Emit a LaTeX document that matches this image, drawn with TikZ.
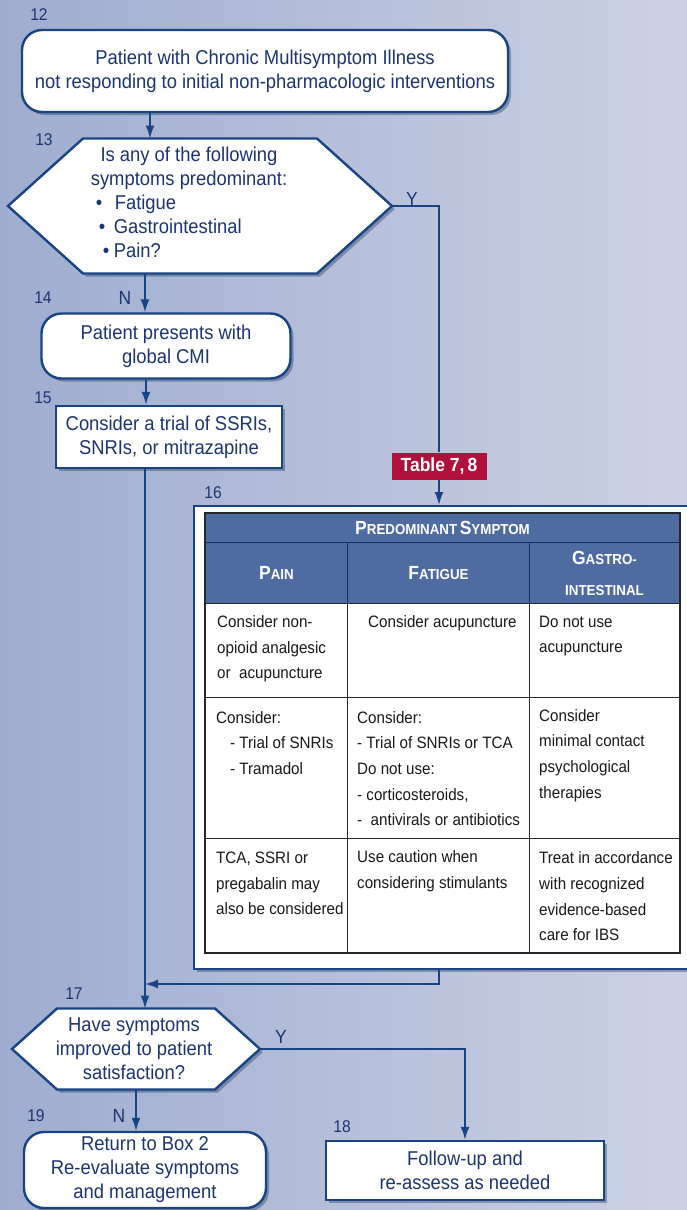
\documentclass[tikz,border=0pt]{standalone}
\usepackage{fontspec}
\setmainfont{Liberation Sans}[FakeStretch=0.92]
\usetikzlibrary{positioning, arrows.meta, shadows}

\definecolor{navy}{RGB}{24,68,132}
\definecolor{ink}{RGB}{28,52,112}
\definecolor{bgleft}{RGB}{158,173,207}
\definecolor{bgright}{RGB}{204,209,228}
\definecolor{hdrblue}{RGB}{78,107,162}
\definecolor{badgered}{RGB}{176,16,58}

% hexagon drawn round an (empty) container node
\newcommand{\hexbox}[2]{%
  \filldraw[hexline] ([xshift=#2]#1.north west) -- ([xshift=-#2]#1.north east) -- (#1.east)
    -- ([xshift=-#2]#1.south east) -- ([xshift=#2]#1.south west) -- (#1.west) -- cycle;}
% fake small caps for the table heads
\newcommand{\hdrcap}[2]{{\fontsize{19}{19}\selectfont #1}{\fontsize{14.5}{14.5}\selectfont #2}}

\begin{document}
\begin{tikzpicture}[x=1pt, y=-1pt,
    boxshadow/.style={drop shadow={shadow xshift=3pt, shadow yshift=-3pt, opacity=0.35, fill=navy!60!black}},
    box/.style={draw=navy, line width=2.4pt, fill=white, text=ink, align=center,
      font=\fontsize{20}{24}\selectfont, boxshadow},
    roundbox/.style={box, rounded corners=20pt},
    hexline/.style={draw=navy, line width=2.4pt, fill=white, line join=miter, boxshadow},
    hexspace/.style={inner sep=0pt, outer sep=0pt},
    hextext/.style={text=ink, align=center, font=\fontsize{20}{24}\selectfont},
    flow/.style={draw=navy, line width=1.8pt},
    numlab/.style={text=ink, font=\fontsize{17}{17}\selectfont},
    yn/.style={text=ink, font=\fontsize{19}{19}\selectfont},
    badge/.style={fill=badgered, text=white, font=\bfseries\fontsize{19}{19}\selectfont,
      minimum width=95pt, minimum height=27pt, inner sep=1pt},
    hdr/.style={draw=navy!70!black, line width=1pt, fill=hdrblue, text=white, align=center,
      font=\bfseries, anchor=north west},
    cell/.style={draw=black!85, line width=1pt, anchor=north west, fill=white},
    celltext/.style={anchor=west, align=left, text=black!90, inner sep=0pt,
      font=\fontsize{16.5}{25.7}\selectfont},
    >={Latex[length=13pt, width=9pt]}
  ]
    \useasboundingbox (0,0) rectangle (687,1210);
    \shade[left color=bgleft, right color=bgright] (0,0) rectangle (687,1210);

    % --- 12: start ---
    \node[roundbox, minimum width=486pt, minimum height=82pt] (b12) at (265,71)
      {Patient with Chronic Multisymptom Illness\\not responding to initial non-pharmacologic interventions};
    \node[numlab] (n12) at (39,15) {12};

    % --- 13: predominant symptom? ---
    \node[hexspace, minimum width=384pt, minimum height=135pt] (q13) at (200,206) {};
    \hexbox{q13}{75pt}
    \node[hextext] (q13text) at (189,205) {%
      \begin{tabular}{@{}l@{}}
        \multicolumn{1}{@{}c@{}}{Is any of the following}\\
        \multicolumn{1}{@{}c@{}}{symptoms predominant:}\\
        \hspace*{5pt}\makebox[19pt][l]{\textbullet}Fatigue\\
        \hspace*{8pt}\makebox[15pt][l]{\textbullet}Gastrointestinal\\
        \hspace*{12pt}\makebox[11pt][l]{\textbullet}Pain?
      \end{tabular}};
    \node[numlab] (n13) at (44,140) {13};
    \node[yn] (y13) at (412,199) {Y};
    \node[yn] (no13) at (125,298) {N};

    % --- 14 / 15: global CMI ---
    \node[roundbox, minimum width=249pt, minimum height=65pt] (b14) at (166,346)
      {Patient presents with\\global CMI};
    \node[numlab] (n14) at (43,298) {14};
    \node[box, minimum width=226pt, minimum height=62pt] (b15) at (169,437)
      {Consider a trial of SSRIs,\\SNRIs, or mitrazapine};
    \node[numlab] (n15) at (43,398) {15};

    % --- 16: table of treatments ---
    \node[badge] (t78) at (439,466) {Table 7,\,8};
    \node[box, minimum width=502pt, minimum height=463pt, anchor=north west] (b16) at (193,505) {};
    \node[numlab] (n16) at (213,493) {16};

    \node[hdr, minimum width=474pt, minimum height=29pt] (hsym) at (205,513)
      {\hdrcap{P}{REDOMINANT} \hdrcap{S}{YMPTOM}};
    \node[hdr, minimum width=142pt, minimum height=61pt] (hpain) at (205,542) {\hdrcap{P}{AIN}};
    \node[hdr, minimum width=182pt, minimum height=61pt] (hfat) at (347,542) {\hdrcap{F}{ATIGUE}};
    \node[hdr, minimum width=150pt, minimum height=61pt, font=\bfseries\fontsize{19}{31}\selectfont]
      (hgas) at (529,542) {\hdrcap{G}{ASTRO-}\\{\fontsize{14.5}{14.5}\selectfont INTESTINAL}};

    \foreach \y/\h [count=\r] in {603/94, 697/141, 838/114} {
      \node[cell, minimum width=142pt, minimum height=\h pt] (c\r1) at (205,\y) {};
      \node[cell, minimum width=182pt, minimum height=\h pt] (c\r2) at (347,\y) {};
      \node[cell, minimum width=150pt, minimum height=\h pt] (c\r3) at (529,\y) {};
    }
    \draw[black!85, line width=2pt] (hsym.north west) rectangle (c33.south east);

    \node[celltext] (t11) at (217,649) {Consider non-\\opioid analgesic\\or\ \ acupuncture};
    \node[celltext] (t12) at (368,623) {Consider acupuncture};
    \node[celltext] (t13) at (539,636) {Do not use\\acupuncture};
    \node[celltext] (t21) at (216,743)
      {Consider:\\\hspace*{14pt}- Trial of SNRIs\\\hspace*{14pt}- Tramadol};
    \node[celltext] (t22) at (357,768.5)
      {Consider:\\- Trial of SNRIs or TCA\\Do not use:\\- corticosteroids,\\-\ \ antivirals or antibiotics};
    \node[celltext] (t23) at (539,755.5) {Consider\\minimal contact\\psychological\\therapies};
    \node[celltext] (t31) at (216,883.5) {TCA, SSRI or\\pregabalin may\\also be considered};
    \node[celltext] (t32) at (357,871) {Use caution when\\considering stimulants};
    \node[celltext] (t33) at (539,896.5) {Treat in accordance\\with recognized\\evidence-based\\care for IBS};

    % --- 17: improved? ---
    \node[hexspace, minimum width=248pt, minimum height=81pt] (q17) at (136,1049) {};
    \hexbox{q17}{45pt}
    \node[hextext] (q17text) at (134,1049) {Have symptoms\\improved to patient\\satisfaction?};
    \node[numlab] (n17) at (74,994) {17};
    \node[yn] (y17) at (281,1037) {Y};
    \node[yn] (no17) at (119,1116) {N};

    % --- 18 / 19: outcomes ---
    \node[box, minimum width=278pt, minimum height=59pt] (b18) at (465,1170.5)
      {Follow-up and\\re-assess as needed};
    \node[numlab] (n18) at (342,1127) {18};
    \node[roundbox, minimum width=242pt, minimum height=76pt] (b19) at (145,1170)
      {Return to Box 2\\Re-evaluate symptoms\\and management};
    \node[numlab] (n19) at (36,1116) {19};

    % --- connectors ---
    \coordinate (join) at (145,984);
    \draw[flow, ->] ([xshift=-115pt]b12.south) -- ([xshift=-115pt]b12.south |- q13.north);
    \draw[flow, ->] ([xshift=-55pt]q13.south) -- ([xshift=-55pt]q13.south |- b14.north);
    \draw[flow, ->] ([xshift=-20pt]b14.south) -- ([xshift=-20pt]b14.south |- b15.north);
    \draw[flow] (q13.east) -| (t78.north);
    \draw[flow, ->] (t78.south) -- (t78.south |- b16.north);
    \draw[flow, ->] ([xshift=-24pt]b15.south) -- ([xshift=-24pt]b15.south |- q17.north);
    \draw[flow, ->] (t78.south |- b16.south) |- (join);
    \draw[flow, ->] (q17.east) -| (b18.north);
    \draw[flow, ->] (q17.south) -- (q17.south |- b19.north);

  \end{tikzpicture}
\end{document}
